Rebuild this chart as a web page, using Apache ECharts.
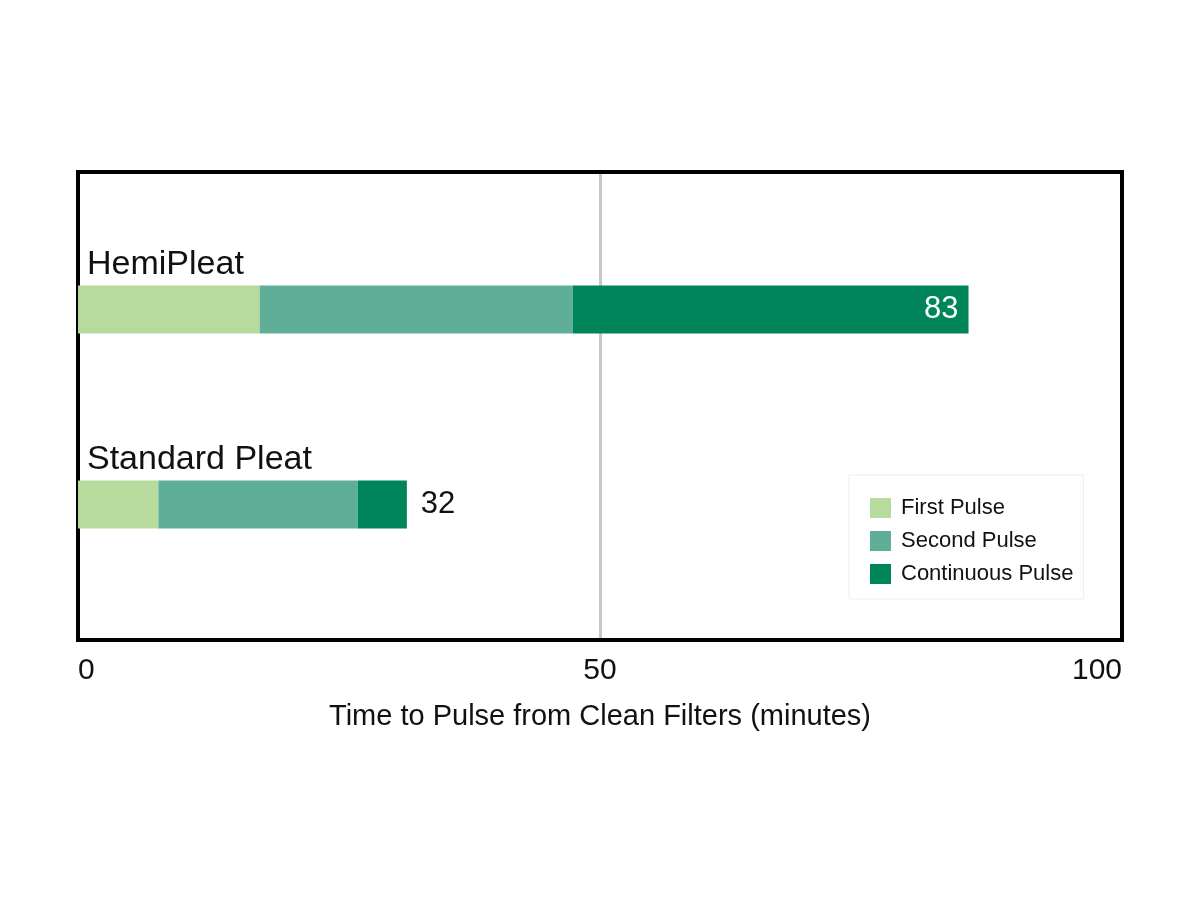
<!DOCTYPE html>
<html>
<head>
<meta charset="utf-8">
<script src="https://cdn.jsdelivr.net/npm/echarts@6/dist/echarts.min.js"></script>
<style>
  html, body { margin: 0; padding: 0; background: #fff; }
  #main { width: 1200px; height: 900px; }
</style>
</head>
<body>
<div id="main"></div>
<script>
// data
var filters = ['HemiPleat', 'Standard Pleat'];
var firstPulse = [17.4, 7.7];
var secondPulse = [30.0, 19.1];
var continuousPulse = [37.9, 4.7];
var totals = [83, 32];
var xTicks = [0, 50, 100];

var font = "'Liberation Sans', Arial, sans-serif";

var chart = echarts.init(document.getElementById('main'), null, { renderer: 'canvas' });

var option = {
    animation: false,
    color: ['#b6db9c', '#5fae98', '#00845a'],
    legend: {
        data: ['First Pulse', 'Second Pulse', 'Continuous Pulse'],
        orient: 'vertical',
        left: 849,
        top: 475,
        padding: [22, 10, 14, 21],
        itemGap: 11,
        itemWidth: 21,
        itemHeight: 20,
        icon: 'rect',
        backgroundColor: '#fff',
        borderColor: '#eeeeee',
        borderWidth: 1,
        textStyle: { fontFamily: font, fontSize: 22, color: '#111', padding: [0, 0, 0, 5] }
    },
    grid: [
        // frame and axis
        { left: 78, width: 1044, top: 172, height: 468, show: true, borderColor: '#000', borderWidth: 4, backgroundColor: 'transparent', z: 1 },
        // bars
        { left: 78, width: 1044, top: 212, height: 390 }
    ],
    xAxis: [
        {
            gridIndex: 0,
            type: 'value',
            min: 0,
            max: 100,
            interval: 50,
            axisLine: { show: false },
            axisTick: { show: false },
            splitLine: { show: true, lineStyle: { color: '#c8c8c8', width: 3 } },
            axisLabel: {
                fontFamily: font,
                fontSize: 30,
                color: '#111',
                margin: 16,
                alignMinLabel: 'left',
                alignMaxLabel: 'right',
                formatter: function (v) { return xTicks.indexOf(v) >= 0 ? String(v) : ''; }
            },
            name: 'Time to Pulse from Clean Filters (minutes)',
            nameLocation: 'middle',
            nameGap: 62,
            nameTextStyle: { fontFamily: font, fontSize: 29, color: '#111' }
        },
        {
            gridIndex: 1,
            type: 'value',
            min: 0,
            max: 100,
            show: false
        }
    ],
    yAxis: [
        { gridIndex: 0, type: 'category', data: filters, show: false },
        { gridIndex: 1, type: 'category', data: filters, inverse: true, show: false }
    ],
    series: [
        {
            name: 'First Pulse',
            type: 'bar',
            stack: 'pulse',
            xAxisIndex: 1,
            yAxisIndex: 1,
            barWidth: 48,
            data: firstPulse,
            label: {
                show: true,
                position: [9, -38],
                formatter: '{b}',
                fontFamily: font,
                fontSize: 34,
                color: '#111'
            }
        },
        {
            name: 'Second Pulse',
            type: 'bar',
            stack: 'pulse',
            xAxisIndex: 1,
            yAxisIndex: 1,
            barWidth: 48,
            data: secondPulse
        },
        {
            name: 'Continuous Pulse',
            type: 'bar',
            stack: 'pulse',
            xAxisIndex: 1,
            yAxisIndex: 1,
            barWidth: 48,
            data: continuousPulse.map(function (v, i) {
                var inside = i === 0;
                return {
                    value: v,
                    label: {
                        show: true,
                        position: inside ? 'insideRight' : 'right',
                        distance: inside ? 10 : 14,
                        formatter: String(totals[i]),
                        fontFamily: font,
                        fontSize: 31,
                        color: inside ? '#fff' : '#111'
                    }
                };
            })
        }
    ]
};

chart.setOption(option);
window.addEventListener('resize', chart.resize);
</script>
</body>
</html>
